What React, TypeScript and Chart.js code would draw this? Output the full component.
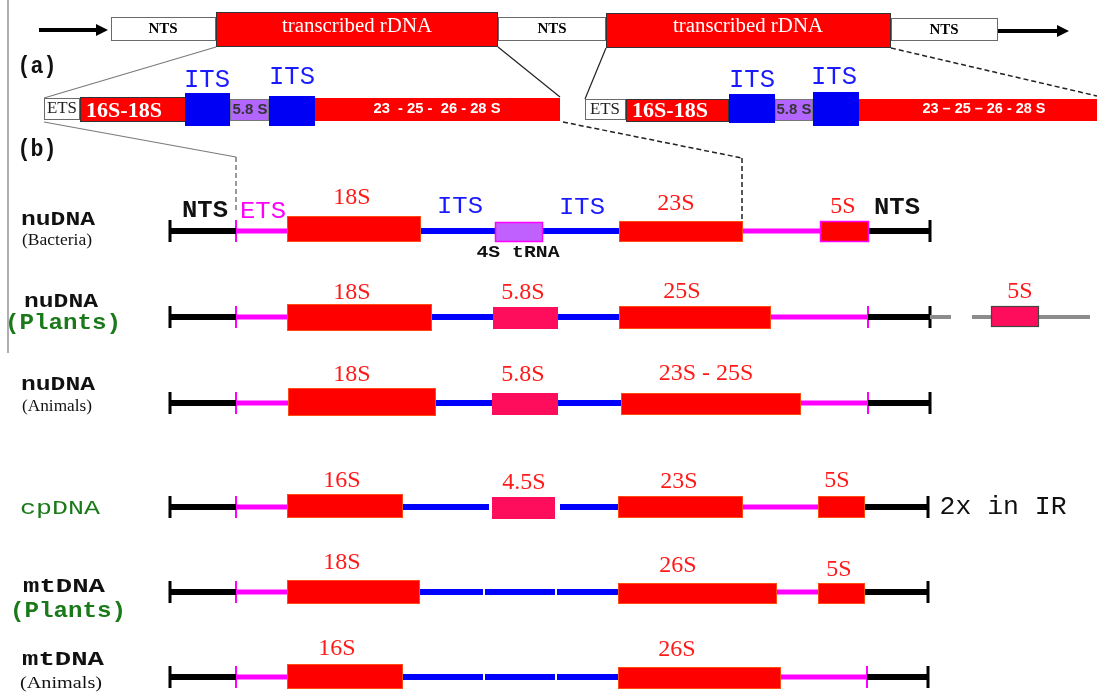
import React, { useEffect, useRef } from "react";
import { Chart, registerables } from "chart.js";

Chart.register(...registerables);

// ================= DATA =================
// Panel (a): tandem rDNA repeat (positions along the diagram axis, 0..1097)
const unitNames = ["NTS", "transcribed rDNA", "NTS", "transcribed rDNA", "NTS"];
const unitStart = [111, 216, 498, 606, 891];
const unitEnd = [216, 498, 606, 891, 998];

// Panel (a): expanded transcribed unit (drawn twice)
const partNamesLeft = ["ETS", "16S-18S", "5.8 S", "23  - 25 -  26 - 28 S", "ITS", "ITS"];
const partNamesRight = ["ETS", "16S-18S", "5.8 S", "23 – 25 – 26 - 28 S", "ITS", "ITS"];
const partStartLeft = [44, 80, 230, 315, 185, 269];
const partEndLeft = [80, 186, 269, 560, 230, 315];
const partStartRight = [585, 626, 775, 859, 729, 813];
const partEndRight = [626, 729, 813, 1097, 775, 859];

// Panel (b): rows
const rowTitles = ["nuDNA", "nuDNA", "nuDNA", "cpDNA", "mtDNA", "mtDNA"];
const rowSubtitles = ["(Bacteria)", "(Plants)", "(Animals)", "", "(Plants)", "(Animals)"];

const geneNames = [
  ["18S", "4S tRNA", "23S", "5S"],
  ["18S", "5.8S", "25S", "5S"],
  ["18S", "5.8S", "23S - 25S"],
  ["16S", "4.5S", "23S", "5S"],
  ["18S", "26S", "5S"],
  ["16S", "26S"],
];
const geneKinds = [
  ["rrna", "trna", "rrna", "rrna5"],
  ["rrna", "small", "rrna", "ext"],
  ["rrna", "small", "rrna"],
  ["rrna", "small", "rrna", "rrna"],
  ["rrna", "rrna", "rrna"],
  ["rrna", "rrna"],
];
const geneStart = [
  [287, 495, 619, 820],
  [287, 493, 619, 991],
  [288, 492, 621],
  [287, 492, 618, 818],
  [287, 618, 818],
  [287, 618],
];
const geneEnd = [
  [421, 543, 743, 869],
  [432, 558, 771, 1039],
  [436, 558, 801],
  [403, 555, 743, 865],
  [420, 777, 865],
  [403, 781],
];

const spacerKinds = [
  ["NTS", "ETS", "ITS", "ITS", "ETS", "NTS"],
  ["NTS", "ETS", "ITS", "ITS", "ETS", "NTS", "IGS", "IGS", "IGS"],
  ["NTS", "ETS", "ITS", "ITS", "ETS", "NTS"],
  ["NTS", "ETS", "ITS", "ITS", "ETS", "NTS"],
  ["NTS", "ETS", "ITS", "ITS", "ITS", "ETS", "NTS"],
  ["NTS", "ETS", "ITS", "ITS", "ITS", "ETS", "NTS"],
];
const spacerStart = [
  [170, 236, 421, 543, 743, 869],
  [170, 236, 432, 558, 771, 868, 930, 972, 1039],
  [170, 236, 436, 558, 801, 868],
  [170, 236, 403, 560, 743, 865],
  [170, 236, 420, 485, 557, 777, 865],
  [170, 236, 403, 485, 557, 781, 867],
];
const spacerEnd = [
  [236, 287, 495, 619, 820, 930],
  [236, 287, 493, 619, 868, 930, 951, 991, 1090],
  [236, 288, 492, 621, 868, 930],
  [236, 287, 489, 618, 818, 928],
  [236, 287, 483, 555, 618, 818, 928],
  [236, 287, 483, 555, 618, 867, 928],
];
const blackTicks = [[170, 930], [170, 930], [170, 930], [170, 928], [170, 928], [170, 928]];
const magentaTicks = [[236], [236, 868], [236, 868], [236], [236], [236, 867]];

// Spacer labels on the bacterial row
const spacerLabels = ["NTS", "ETS", "ITS", "ITS", "NTS"];
const spacerLabelKinds = ["NTS", "ETS", "ITS", "ITS", "NTS"];

// ================= LAYOUT =================
const W = 1097;
const H = 697;
const unitTop = [17, 12, 17, 13, 18];
const unitBottom = [41, 47, 41, 48, 41];
const unitLabelY = [29, 27, 29, 27, 30];
const unitLabelX = [163, 357, 552, 748, 944];

const partTopLeft = [98, 97, 99, 98, 93, 96];
const partBottomLeft = [120, 122, 121, 121, 126, 126];
const partTopRight = [99, 99, 99, 99, 94, 92];
const partBottomRight = [120, 122, 121, 121, 123, 126];
const partLabelXLeft = [62, 124, 250, 437, 207, 292];
const partLabelYLeft = [109, 112, 110, 109, 80, 77];
const partLabelXRight = [605, 670, 794, 984, 752, 834];
const partLabelYRight = [110, 112, 110, 109, 80, 77];
const partLabelWLeft = [30, 76, 0, 127, 46, 46];
const partLabelWRight = [30, 76, 0, 123, 46, 46];

const rowY = [231, 317, 403, 507, 592, 677];
const geneTop = [[216, 222, 221, 221], [304, 307, 306, 306], [388, 393, 393], [494, 497, 496, 496], [580, 583, 583], [664, 667]];
const geneBottom = [[242, 242, 242, 242], [331, 329, 329, 327], [416, 415, 415], [518, 519, 518, 518], [604, 604, 604], [689, 689]];
const geneLabelX = [[352, 518, 676, 843], [352, 523, 682, 1020], [352, 523, 706], [342, 524, 679, 837], [342, 678, 839], [337, 677]];
const geneLabelY = [[198, 253, 204, 207], [293, 293, 292, 292], [375, 375, 374], [481, 483, 482, 481], [563, 566, 570], [649, 650]];

const titleX = [58, 61, 58, 60, 64, 63];
const titleY = [220, 302, 385, 508, 587, 660];
const titleW = [74, 74, 74, 80, 82, 82];
const subX = [57, 63, 57, 0, 68, 61];
const subY = [241, 323, 407, 0, 611, 684];
const subW = [70, 116, 70, 0, 116, 82];

const spacerLabelX = [205, 263, 460, 582, 897];
const spacerLabelY = [211, 212, 207, 208, 208];

// connectors: x1, y1, x2, y2, dashed, color
const connectors: [number, number, number, number, boolean, string][] = [
  [216, 47, 44, 98, false, "#7a7a7a"],
  [498, 47, 560, 97, false, "#222"],
  [606, 48, 585, 99, false, "#222"],
  [891, 48, 1097, 96, true, "#222"],
  [44, 122, 236, 157, false, "#7a7a7a"],
  [236, 157, 236, 213, true, "#7a7a7a"],
  [563, 122, 742, 158, true, "#222"],
  [742, 158, 742, 221, true, "#222"],
  [8, 0, 8, 353, false, "#7a7a7a"],
];
// arrows: shaft start, tip, y
const arrows: [number, number, number][] = [
  [39, 108, 30],
  [998, 1069, 31],
];

const SERIF = "'Liberation Serif', 'Times New Roman', serif";
const MONO = "'Liberation Mono', 'Courier New', monospace";
const SANS = "'Liberation Sans', Arial, sans-serif";
const RED = "#ff0000";
const BLUE = "#0000ff";
const MAGENTA = "#ff00ff";
const PINK = "#ff0d5d";
const GREEN = "#1a7a1a";

const spacerColor: Record<string, string> = { NTS: "#000", ETS: MAGENTA, ITS: BLUE, IGS: "#8c8c8c" };
const spacerWidth: Record<string, number> = { NTS: 6, ETS: 5, ITS: 6, IGS: 4 };

function seg(x1: number, y1: number, x2: number, y2: number, color: string, width: number, dash: number[] = []) {
  return {
    type: "line" as const,
    data: [{ x: x1, y: y1 }, { x: x2, y: y2 }],
    borderColor: color,
    borderWidth: width,
    borderDash: dash,
    borderCapStyle: "butt" as const,
    pointRadius: 0,
    fill: false,
    tension: 0,
  };
}

function buildDatasets() {
  const ds: any[] = [];
  connectors.forEach(([x1, y1, x2, y2, dashed, c]) => ds.push(seg(x1, y1, x2, y2, c, dashed ? 1.5 : 1.2, dashed ? [5, 3] : [])));
  arrows.forEach(([a, b, y]) => ds.push(seg(a, y, b - 8, y, "#000", 4)));
  rowY.forEach((y, r) => {
    spacerKinds[r].forEach((k, i) => ds.push(seg(spacerStart[r][i], y, spacerEnd[r][i], y, spacerColor[k], spacerWidth[k])));
    blackTicks[r].forEach((x) => ds.push(seg(x, y - 11, x, y + 11, "#000", 3)));
    magentaTicks[r].forEach((x) => ds.push(seg(x, y - 11, x, y + 11, MAGENTA, 2)));
  });
  return ds;
}

function drawText(ctx: CanvasRenderingContext2D, t: string, x: number, y: number, font: string, color: string, w = 0) {
  ctx.save();
  ctx.font = font;
  ctx.fillStyle = color;
  ctx.textBaseline = "middle";
  ctx.textAlign = "center";
  const m = ctx.measureText(t).width;
  const sx = w && m ? w / m : 1;
  ctx.translate(x, y);
  ctx.scale(sx, 1);
  ctx.fillText(t, 0, 0);
  ctx.restore();
}

const diagramPlugin = {
  id: "rdnaDiagram",
  afterDatasetsDraw(chart: any) {
    const ctx: CanvasRenderingContext2D = chart.ctx;
    const X = (v: number) => chart.scales.x.getPixelForValue(v);
    const Y = (v: number) => chart.scales.y.getPixelForValue(v);
    const rect = (x1: number, x2: number, y1: number, y2: number, fill: string, stroke?: string, lw = 1) => {
      const px = X(x1), py = Y(y1), pw = X(x2) - X(x1), ph = Y(y2) - Y(y1);
      ctx.fillStyle = fill;
      ctx.fillRect(px, py, pw, ph);
      if (stroke) {
        ctx.strokeStyle = stroke;
        ctx.lineWidth = lw;
        ctx.strokeRect(px + 0.5, py + 0.5, pw - 1, ph - 1);
      }
    };
    const txt = (t: string, x: number, y: number, font: string, color: string, w = 0) =>
      drawText(ctx, t, X(x), Y(y), font, color, w);

    // arrowheads
    arrows.forEach(([, tip, y]) => {
      ctx.fillStyle = "#000";
      ctx.beginPath();
      ctx.moveTo(X(tip), Y(y));
      ctx.lineTo(X(tip - 12), Y(y - 6));
      ctx.lineTo(X(tip - 12), Y(y + 6));
      ctx.closePath();
      ctx.fill();
    });

    // repeat unit
    unitNames.forEach((n, i) => {
      const isNTS = n === "NTS";
      rect(unitStart[i], unitEnd[i], unitTop[i], unitBottom[i], isNTS ? "#fff" : RED, isNTS ? "#6a6a6a" : "#333", 1);
      if (isNTS) txt(n, unitLabelX[i], unitLabelY[i], `bold 15px ${SERIF}`, "#000");
      else txt(n, unitLabelX[i], unitLabelY[i], `20px ${SERIF}`, "#fff", 150);
    });

    // expanded units
    const partFill = ["#fff", RED, "#b366ff", RED, "#0000f5", "#0000f5"];
    const partStroke = ["#6a6a6a", "#333", "#777", "", "", ""];
    const drawParts = (names: string[], st: number[], en: number[], tp: number[], bt: number[], lx: number[], ly: number[], lw: number[]) => {
      names.forEach((n, i) => {
        rect(st[i], en[i], tp[i], bt[i], partFill[i], partStroke[i] || undefined, 1);
        if (i === 0) txt(n, lx[i], ly[i], `16px ${SERIF}`, "#222", lw[i]);
        else if (i === 1) txt(n, lx[i], ly[i], `bold 21px ${SERIF}`, "#fff", lw[i]);
        else if (i === 2) txt(n, lx[i], ly[i], `bold 15px ${SANS}`, "#333");
        else if (i === 3) txt(n, lx[i], ly[i], `bold 14px ${SANS}`, "#fff", lw[i]);
        else txt(n, lx[i], ly[i], `26px ${MONO}`, "#1a1aff", lw[i]);
      });
    };
    drawParts(partNamesLeft, partStartLeft, partEndLeft, partTopLeft, partBottomLeft, partLabelXLeft, partLabelYLeft, partLabelWLeft);
    drawParts(partNamesRight, partStartRight, partEndRight, partTopRight, partBottomRight, partLabelXRight, partLabelYRight, partLabelWRight);

    txt("(a)", 37, 67, `bold 24px ${MONO}`, "#111", 39);
    txt("(b)", 37, 150, `bold 24px ${MONO}`, "#111", 39);

    // rows
    rowY.forEach((y, r) => {
      geneNames[r].forEach((g, i) => {
        const k = geneKinds[r][i];
        const x1 = geneStart[r][i], x2 = geneEnd[r][i], t = geneTop[r][i], b = geneBottom[r][i];
        if (k === "rrna") rect(x1, x2, t, b, RED, "#ff4a10", 1);
        else if (k === "rrna5") rect(x1, x2, t, b, RED, MAGENTA, 1.5);
        else if (k === "trna") rect(x1, x2, t, b, "#c060ff", MAGENTA, 1.5);
        else if (k === "small") rect(x1, x2, t, b, PINK);
        else rect(x1, x2, t, b, PINK, "#444", 1.2);
        if (k === "trna") txt(g, geneLabelX[r][i], geneLabelY[r][i], `bold 17px ${MONO}`, "#111", 83);
        else txt(g, geneLabelX[r][i], geneLabelY[r][i], `24px ${SERIF}`, "#ff1a1a");
      });
      const green = rowTitles[r] === "cpDNA";
      txt(rowTitles[r], titleX[r], titleY[r], `${green ? "" : "bold "}21px ${MONO}`, green ? GREEN : "#111", titleW[r]);
      const s = rowSubtitles[r];
      if (s) {
        if (s === "(Plants)") txt(s, subX[r], subY[r], `bold 22px ${MONO}`, GREEN, subW[r]);
        else txt(s, subX[r], subY[r], `17px ${SERIF}`, "#111", subW[r]);
      }
    });

    spacerLabels.forEach((s, i) => {
      const k = spacerLabelKinds[i];
      const font = k === "NTS" ? `bold 24px ${MONO}` : `24px ${MONO}`;
      const col = k === "NTS" ? "#111" : k === "ETS" ? MAGENTA : "#1a1aff";
      txt(s, spacerLabelX[i], spacerLabelY[i], font, col, 46);
    });

    txt("2x in IR", 1003, 507, `25px ${MONO}`, "#111", 127);
  },
};

export default function App() {
  const ref = useRef<HTMLCanvasElement>(null);
  useEffect(() => {
    if (!ref.current) return;
    const chart = new Chart(ref.current, {
      type: "line",
      data: { datasets: buildDatasets() },
      options: {
        animation: false,
        responsive: false,
        devicePixelRatio: 1,
        layout: { padding: 0 },
        plugins: { legend: { display: false }, tooltip: { enabled: false }, title: { display: false } },
        scales: {
          x: { type: "linear", min: 0, max: W, display: false },
          y: { type: "linear", min: 0, max: H, reverse: true, display: false },
        },
      },
      plugins: [diagramPlugin],
    } as any);
    return () => chart.destroy();
  }, []);
  return (
    <div style={{ position: "fixed", left: 0, top: 0, width: W, height: H, background: "#fff" }}>
      <canvas ref={ref} width={W} height={H} style={{ display: "block" }} />
    </div>
  );
}
